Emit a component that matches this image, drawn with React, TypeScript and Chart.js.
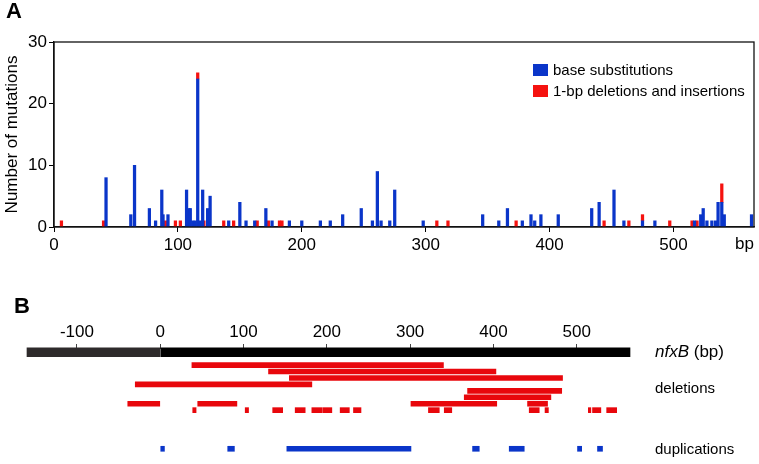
import React, { useEffect, useRef } from 'react';
import { Chart, registerables } from 'chart.js';

Chart.register(...registerables);

const FONT = "'Liberation Sans', Arial, Helvetica, sans-serif";
const BLUE = '#0a35c9';
const RED = '#f5120f';
const RED_MAP = '#e8070c';

// ---- Panel A: point mutations along nfxB ----
const substitutionPositions = [42, 62, 65, 77, 82, 87, 88, 92, 107, 109, 110, 112, 114, 116, 118, 120, 124, 126, 141, 150, 155, 162, 171, 176, 190, 200, 215, 223, 233, 248, 257, 261, 264, 271, 275, 298, 346, 359, 366, 378, 385, 388, 393, 407, 434, 440, 452, 460, 475, 485, 517, 522, 524, 527, 531, 534, 536, 539, 541, 563];
const substitutionCounts = [8, 2, 10, 3, 1, 6, 2, 2, 6, 3, 3, 1, 1, 24, 1, 6, 3, 5, 1, 4, 1, 1, 3, 1, 1, 1, 1, 1, 2, 3, 1, 9, 1, 1, 6, 1, 2, 1, 3, 1, 2, 1, 2, 2, 3, 4, 6, 1, 1, 1, 1, 2, 3, 1, 1, 1, 4, 4, 2, 2];
const indelPositions = [6, 40, 90, 98, 102, 116, 121, 137, 145, 164, 173, 182, 184, 309, 318, 373, 444, 464, 475, 497, 515, 519, 539];
const indelCounts = [1, 1, 1, 1, 1, 1, 1, 1, 1, 1, 1, 1, 1, 1, 1, 1, 1, 1, 1, 1, 1, 1, 3];
const positionTicks = [0, 100, 200, 300, 400, 500];
const countTicks = [0, 10, 20, 30];

// ---- Panel B: deletions and duplications map ----
const geneSegments: [number, number][] = [[-160, 0], [0, 564]];
const mapRows = ['gene', 'gap0', 'd1', 'd2', 'd3', 'd4', 'd5', 'd6', 'd7', 'd8', 'gap1', 'gap2', 'gap3', 'gap4', 'gap5', 'dup'];
const deletionRows: [number, number][][] = [
  [[38, 340]],
  [[130, 403]],
  [[155, 483]],
  [[-30, 182]],
  [[369, 482]],
  [[365, 469]],
  [[-39, 0], [45, 92], [301, 404], [441, 465]],
  [[39, 43], [102, 106], [135, 147], [162, 174], [182, 194], [195, 206], [216, 227], [232, 241], [322, 335], [341, 350], [443, 455], [462, 466], [514, 517], [519, 529], [536, 548]],
];
const duplicationSegments: [number, number][] = [[0, 5], [81, 89], [152, 301], [375, 383], [419, 437], [501, 506], [525, 531]];
const mapTicks = [-100, 0, 100, 200, 300, 400, 500];

const frameAndLegend = {
  id: 'frameAndLegend',
  afterDraw(chart: any) {
    const { ctx, chartArea } = chart;
    const { left, top, right, bottom } = chartArea;
    ctx.save();
    ctx.strokeStyle = '#111';
    ctx.lineWidth = 1.3;
    ctx.strokeRect(left, top, right - left, bottom - top);
    const items = chart.data.datasets;
    ctx.font = `15px ${FONT}`;
    ctx.textBaseline = 'middle';
    ctx.textAlign = 'left';
    items.forEach((ds: any, i: number) => {
      const bx = right - 221;
      const by = top + 22 + i * 21;
      ctx.fillStyle = ds.backgroundColor;
      ctx.fillRect(bx, by, 15, 12);
      ctx.fillStyle = '#000';
      ctx.fillText(ds.label, bx + 20, by + 6.5);
    });
    ctx.restore();
  },
};

const mapLabels = {
  id: 'mapLabels',
  afterDraw(chart: any) {
    const { ctx, chartArea } = chart;
    const y = chart.scales.y;
    const x0 = chartArea.right + 25;
    ctx.save();
    ctx.fillStyle = '#000';
    ctx.textBaseline = 'middle';
    ctx.textAlign = 'left';
    const gy = y.getPixelForValue(mapRows.indexOf('gene'));
    ctx.font = `italic 17px ${FONT}`;
    ctx.fillText('nfxB', x0, gy);
    const w = ctx.measureText('nfxB').width;
    ctx.font = `17px ${FONT}`;
    ctx.fillText(' (bp)', x0 + w, gy);
    ctx.font = `15px ${FONT}`;
    const dy = (y.getPixelForValue(mapRows.indexOf('d4')) + y.getPixelForValue(mapRows.indexOf('d5'))) / 2 + 1;
    ctx.fillText('deletions', x0, dy);
    ctx.fillText('duplications', x0, y.getPixelForValue(mapRows.indexOf('dup')) + 1.5);
    ctx.restore();
  },
};

function MutationChart() {
  const ref = useRef<HTMLCanvasElement>(null);
  useEffect(() => {
    const chart = new Chart(ref.current as HTMLCanvasElement, {
      type: 'bar',
      data: {
        datasets: [
          {
            label: 'base substitutions',
            data: substitutionPositions.map((x, i) => ({ x, y: substitutionCounts[i] })),
            backgroundColor: BLUE,
            barThickness: 2.6,
            borderWidth: 0,
          },
          {
            label: '1-bp deletions and insertions',
            data: indelPositions.map((x, i) => ({ x, y: indelCounts[i] })),
            backgroundColor: RED,
            barThickness: 2.6,
            borderWidth: 0,
          },
        ],
      } as any,
      options: {
        responsive: false,
        animation: false,
        events: [],
        layout: { padding: { left: 0, right: 5, top: 42, bottom: 0 } },
        plugins: { legend: { display: false }, tooltip: { enabled: false } },
        scales: {
          x: {
            type: 'linear',
            min: 0,
            max: 565,
            offset: false,
            stacked: true,
            afterBuildTicks: (s: any) => { s.ticks = positionTicks.map((v) => ({ value: v })); },
            afterFit: (s: any) => { s.height = 33; },
            ticks: { font: { size: 17, family: FONT }, color: '#000', padding: 3, maxRotation: 0, autoSkip: false },
            grid: { offset: false, drawOnChartArea: false, drawTicks: true, tickLength: 5, color: '#000' },
            border: { display: true, color: '#111', width: 1.3 },
            title: { display: true, text: 'bp', align: 'end', font: { size: 17, family: FONT }, color: '#000', padding: { top: 0, bottom: 5 } },
          },
          y: {
            min: 0,
            max: 30,
            stacked: true,
            afterBuildTicks: (s: any) => { s.ticks = countTicks.map((v) => ({ value: v })); },
            afterFit: (s: any) => { s.width = 54; },
            ticks: { font: { size: 17, family: FONT }, color: '#000', padding: 2 },
            grid: { drawOnChartArea: false, drawTicks: true, tickLength: 5, color: '#000' },
            border: { display: true, color: '#111', width: 1.3 },
            title: { display: true, text: 'Number of mutations', font: { size: 17, family: FONT }, color: '#000', padding: { top: 2, bottom: 0 } },
          },
        },
      } as any,
      plugins: [frameAndLegend],
    });
    return () => chart.destroy();
  }, []);
  return <canvas ref={ref} width={759} height={260} style={{ position: 'absolute', left: 0, top: 0, width: 759, height: 260 }} />;
}

function MapChart() {
  const ref = useRef<HTMLCanvasElement>(null);
  useEffect(() => {
    const chart = new Chart(ref.current as HTMLCanvasElement, {
      type: 'bar',
      data: {
        labels: mapRows,
        datasets: [
          {
            label: 'nfxB',
            data: geneSegments.map((s) => ({ x: s, y: 'gene' })),
            backgroundColor: ['#2e2a2b', '#000000'],
            barThickness: 9,
            grouped: false,
            clip: false,
            borderWidth: 0,
          },
          {
            label: 'deletions',
            data: deletionRows.flatMap((row, i) => row.map((s) => ({ x: s, y: 'd' + (i + 1) }))),
            backgroundColor: RED_MAP,
            barThickness: 5,
            grouped: false,
            clip: false,
            borderWidth: 0,
          },
          {
            label: 'duplications',
            data: duplicationSegments.map((s) => ({ x: s, y: 'dup' })),
            backgroundColor: BLUE,
            barThickness: 5,
            grouped: false,
            clip: false,
            borderWidth: 0,
          },
        ],
      } as any,
      options: {
        indexAxis: 'y',
        responsive: false,
        animation: false,
        events: [],
        layout: { padding: { left: 27, right: 129, top: 0, bottom: 12 } },
        plugins: { legend: { display: false }, tooltip: { enabled: false } },
        scales: {
          x: {
            type: 'linear',
            position: 'top',
            min: -160,
            max: 564,
            afterBuildTicks: (s: any) => { s.ticks = mapTicks.map((v) => ({ value: v })); },
            afterFit: (s: any) => { s.height = 89; },
            ticks: { font: { size: 17, family: FONT }, color: '#000', padding: 1, maxRotation: 0, autoSkip: false },
            grid: { drawOnChartArea: false, drawTicks: true, tickLength: 5, color: '#444' },
            border: { display: false },
          },
          y: { type: 'category', display: false },
        },
      } as any,
      plugins: [mapLabels],
    });
    return () => chart.destroy();
  }, []);
  return <canvas ref={ref} width={759} height={204} style={{ position: 'absolute', left: 0, top: 260, width: 759, height: 204 }} />;
}

export default function App() {
  useEffect(() => {
    document.body.style.margin = '0';
  }, []);
  const panelLabel: React.CSSProperties = { position: 'absolute', fontFamily: FONT, fontWeight: 'bold', fontSize: 22, lineHeight: '26px', color: '#000' };
  return (
    <div style={{ position: 'absolute', left: 0, top: 0, width: 759, height: 464, background: '#fff' }}>
      <MutationChart />
      <MapChart />
      <div style={{ ...panelLabel, left: 6, top: -2 }}>A</div>
      <div style={{ ...panelLabel, left: 14, top: 293 }}>B</div>
    </div>
  );
}
